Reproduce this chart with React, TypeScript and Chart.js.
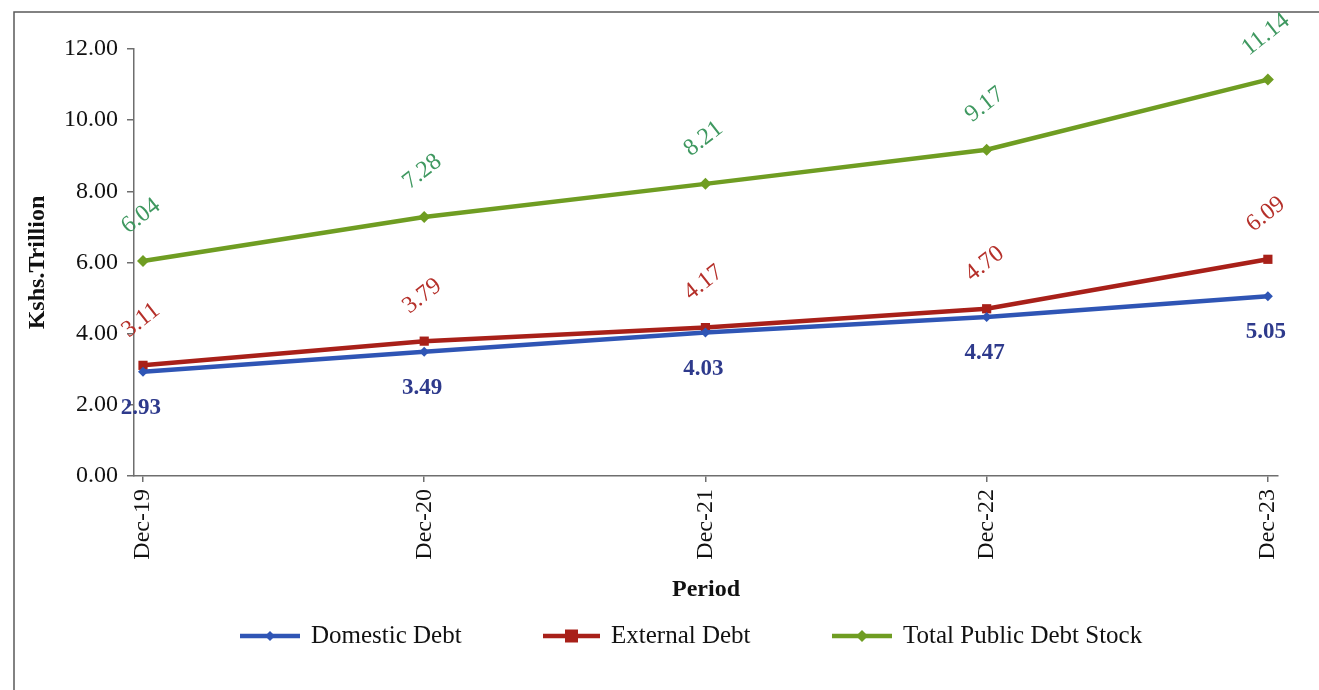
import React, { useEffect, useRef } from "react";
import { Chart, registerables } from "chart.js";

Chart.register(...registerables);

const categories = ["Dec-19", "Dec-20", "Dec-21", "Dec-22", "Dec-23"];
const domesticDebt = [2.93, 3.49, 4.03, 4.47, 5.05];
const externalDebt = [3.11, 3.79, 4.17, 4.7, 6.09];
const totalDebt = [6.04, 7.28, 8.21, 9.17, 11.14];
const yTicks = [0, 2, 4, 6, 8, 10, 12];

const seriesNames = ["Domestic Debt", "External Debt", "Total Public Debt Stock"];
const lineColors = ["#2f55b5", "#a82019", "#6f9d22"];
const labelColors = ["#2e3a8c", "#b5302a", "#3f9860"];
const markerStyles = ["rectRot", "rect", "rectRot"];
const markerRadius = [5, 6.5, 6];

const FONT = "'Liberation Serif', 'Times New Roman', serif";

const W = 1319;
const H = 690;

const App: React.FC = () => {
  const canvasRef = useRef<HTMLCanvasElement | null>(null);

  useEffect(() => {
    document.body.style.margin = "0";
    const canvas = canvasRef.current;
    if (!canvas) return;

    const toPts = (arr: number[]) => arr.map((v, i) => ({ x: i, y: v }));

    const decor = {
      id: "decor",
      beforeDraw(chart: any) {
        const ctx = chart.ctx;
        ctx.save();
        ctx.fillStyle = "#ffffff";
        ctx.fillRect(0, 0, W, H);
        ctx.strokeStyle = "#5a5a5a";
        ctx.lineWidth = 1.5;
        ctx.beginPath();
        ctx.moveTo(14, H);
        ctx.lineTo(14, 12);
        ctx.lineTo(W, 12);
        ctx.stroke();
        ctx.restore();
      },
      afterDraw(chart: any) {
        const ctx = chart.ctx;
        const area = chart.chartArea;
        ctx.save();
        // Y title
        ctx.fillStyle = "#111";
        ctx.font = `bold 24px ${FONT}`;
        ctx.textAlign = "center";
        ctx.textBaseline = "middle";
        ctx.save();
        ctx.translate(38, (area.top + area.bottom) / 2);
        ctx.rotate(-Math.PI / 2);
        ctx.fillText("Kshs.Trillion", 0, 0);
        ctx.restore();
        // X title centred on plot area
        ctx.fillText("Period", (area.left + area.right) / 2, 590);

        // Data labels
        chart.data.datasets.forEach((ds: any, di: number) => {
          const meta = chart.getDatasetMeta(di);
          meta.data.forEach((pt: any, i: number) => {
            const v = ds.data[i].y;
            const txt = v.toFixed(2);
            ctx.save();
            ctx.fillStyle = labelColors[di];
            ctx.textAlign = "center";
            ctx.textBaseline = "middle";
            if (di === 0) {
              ctx.font = `bold 23px ${FONT}`;
              ctx.fillText(txt, pt.x - 2, pt.y + 36);
            } else {
              ctx.font = `24px ${FONT}`;
              ctx.translate(pt.x - 2, pt.y - 45);
              ctx.rotate((-38 * Math.PI) / 180);
              ctx.fillText(txt, 0, 0);
            }
            ctx.restore();
          });
        });

        // Legend
        const legendItems = [
          { x1: 240, x2: 300, tx: 311 },
          { x1: 543, x2: 600, tx: 611 },
          { x1: 832, x2: 892, tx: 903 },
        ];
        const ly = 636;
        legendItems.forEach((it, i) => {
          ctx.strokeStyle = lineColors[i];
          ctx.lineWidth = 4.5;
          ctx.beginPath();
          ctx.moveTo(it.x1, ly);
          ctx.lineTo(it.x2, ly);
          ctx.stroke();
          const cx = (it.x1 + it.x2) / 2;
          ctx.fillStyle = lineColors[i];
          const r = markerRadius[i];
          ctx.beginPath();
          if (markerStyles[i] === "rect") {
            ctx.rect(cx - r, ly - r, 2 * r, 2 * r);
          } else {
            ctx.moveTo(cx, ly - r);
            ctx.lineTo(cx + r, ly);
            ctx.lineTo(cx, ly + r);
            ctx.lineTo(cx - r, ly);
            ctx.closePath();
          }
          ctx.fill();
          ctx.fillStyle = "#111";
          ctx.font = `25px ${FONT}`;
          ctx.textAlign = "left";
          ctx.textBaseline = "middle";
          ctx.fillText(seriesNames[i], it.tx, ly);
        });
        ctx.restore();
      },
    };

    const datasets = [domesticDebt, externalDebt, totalDebt].map((arr, i) => ({
      label: seriesNames[i],
      data: toPts(arr),
      borderColor: lineColors[i],
      backgroundColor: lineColors[i],
      borderWidth: 4.5,
      pointStyle: markerStyles[i],
      pointRadius: markerRadius[i],
      pointBorderWidth: 0,
      pointBackgroundColor: lineColors[i],
      tension: 0,
      order: i === 0 ? 0 : 3 - i,
    }));

    const chart = new Chart(canvas, {
      type: "line",
      data: { datasets },
      options: {
        responsive: false,
        animation: false,
        layout: { padding: { top: 49, right: 41, left: 0, bottom: 0 } },
        plugins: {
          legend: { display: false },
          tooltip: { enabled: false },
          title: { display: false },
        },
        scales: {
          x: {
            type: "linear",
            min: -0.032,
            max: 4.036,
            afterFit: (s: any) => {
              s.height = H - 476;
            },
            afterBuildTicks: (s: any) => {
              s.ticks = categories.map((_, i) => ({ value: i }));
            },
            ticks: {
              callback: (v: any) => categories[Number(v)] ?? "",
              minRotation: 90,
              maxRotation: 90,
              autoSkip: false,
              padding: 7,
              color: "#111",
              font: { family: FONT, size: 24 },
            },
            grid: {
              drawOnChartArea: false,
              drawTicks: true,
              tickLength: 6,
              color: "#6e6e6e",
              lineWidth: 1.5,
            },
            border: { display: true, color: "#6e6e6e", width: 1.5 },
          },
          y: {
            type: "linear",
            min: 0,
            max: 12,
            afterFit: (s: any) => {
              s.width = 134;
            },
            afterBuildTicks: (s: any) => {
              s.ticks = yTicks.map((v) => ({ value: v }));
            },
            ticks: {
              callback: (v: any) => Number(v).toFixed(2),
              padding: 9,
              color: "#111",
              font: { family: FONT, size: 24 },
            },
            grid: {
              drawOnChartArea: false,
              drawTicks: true,
              tickLength: 7,
              color: "#6e6e6e",
              lineWidth: 1.5,
            },
            border: { display: true, color: "#6e6e6e", width: 1.5 },
          },
        },
      },
      plugins: [decor],
    });

    return () => {
      chart.destroy();
    };
  }, []);

  return (
    <div style={{ width: W, height: H, background: "#fff" }}>
      <canvas ref={canvasRef} width={W} height={H} style={{ display: "block" }} />
    </div>
  );
};

export default App;
